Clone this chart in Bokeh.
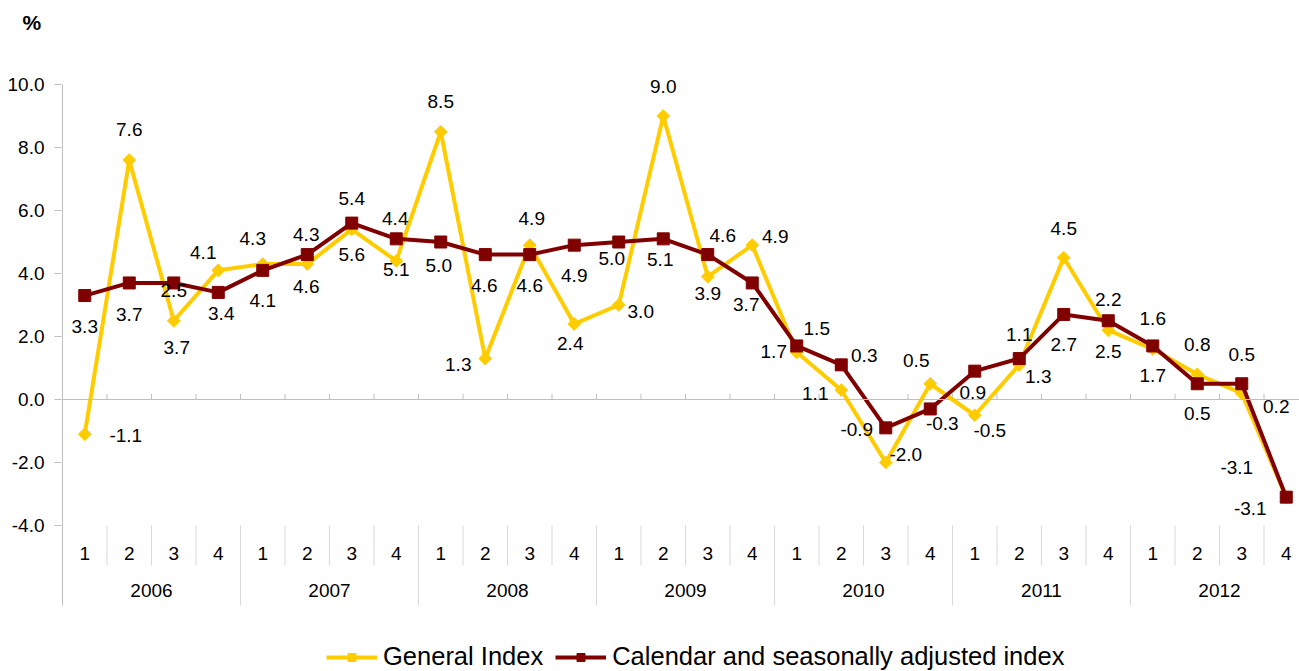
import math
from bokeh.plotting import figure
from bokeh.models import (Range1d, FixedTicker, NumeralTickFormatter, Span,
                          Legend, LegendItem, LabelSet, ColumnDataSource)
from bokeh.core.properties import value
from bokeh.embed import file_html
from bokeh.resources import INLINE

# ---------------- data ----------------
years = ["2006", "2007", "2008", "2009", "2010", "2011", "2012"]
quarters = ["1", "2", "3", "4"]

general = [-1.1, 7.6, 2.5, 4.1, 4.3, 4.3, 5.4, 4.4,
           8.5, 1.3, 4.9, 2.4, 3.0, 9.0, 3.9, 4.9,
           1.5, 0.3, -2.0, 0.5, -0.5, 1.1, 4.5, 2.2,
           1.6, 0.8, 0.2, -3.1]
adjusted = [3.3, 3.7, 3.7, 3.4, 4.1, 4.6, 5.6, 5.1,
            5.0, 4.6, 4.6, 4.9, 5.0, 5.1, 4.6, 3.7,
            1.7, 1.1, -0.9, -0.3, 0.9, 1.3, 2.7, 2.5,
            1.7, 0.5, 0.5, -3.1]

# data label texts as printed on the chart
general_labels = ["-1.1", "7.6", "2.5", "4.1", "4.3", "4.3", "5.4", "4.4",
                  "8.5", "1.3", "4.9", "2.4", "3.0", "9.0", "3.9", "4.9",
                  "1.5", "1.1", "-2.0", "0.5", "-0.5", "1.1", "4.5", "2.2",
                  "1.6", "0.8", "-3.1", "0.2"]
adjusted_labels = ["3.3", "3.7", "3.7", "3.4", "4.1", "4.6", "5.6", "5.1",
                   "5.0", "4.6", "4.6", "4.9", "5.0", "5.1", "4.6", "3.7",
                   "1.7", "0.3", "-0.9", "-0.3", "0.9", "1.3", "2.7", "2.5",
                   "1.7", "0.5", "0.5", "-3.1"]
y_ticks = [-4, -2, 0, 2, 4, 6, 8, 10]

# label placement (screen px, relative to the point; dy positive = downwards)
gen_dx = [41, 0, 0, -15, -10, -1, 0, -1, 0, -27, 2, -4, 22, 0, 0, 23,
          20, -26, 20, -14, 15, 0, 0, 0, 0, 0, -5, -10]
gen_dy = [1, -31, -30, -18, -26, -30, -31, -42, -30, 6, -27, 20, 6, -30, 17, -9,
          -24, 3, -8, -23, 15, -30, -29, -31, -31, -30, 74, -91]
adj_dx = [0, 0, 3, 3, 0, -1, 0, 0, -2, -1, 0, 0, -7, -3, 15, -6,
          -23, 23, -29, 12, -2, 19, 0, 0, 0, 0, 0, -36]
adj_dy = [31, 32, 65, 21, 30, 32, 31, 31, 23, 31, 31, 30, 16, 21, -19, 22,
          6, -9, 2, 15, 21, 18, 30, 31, 30, 30, -29, 11]

# ---------------- layout ----------------
YELLOW = "#FFCC00"
MAROON = "#800000"
AXIS_GREY = "#BFBFBF"
SEP_GREY = "#D9D9D9"
FONT = "Liberation Sans"
FS = "19px"

W, H = 1299, 671
left, top = 61, 40           # frame offsets in px
cat_px = 44.5                # px per category
unit_px = 31.5               # px per y unit
zero_px = 399                # screen y of value 0

def yv(py):                  # screen px -> data value (layout helper)
    return (zero_px - py) / unit_px

x0 = -0.5 - 1 / cat_px
n = len(years) * len(quarters)
xs = list(range(n))

p = figure(width=W, height=H, output_backend="svg", toolbar_location=None,
           x_range=Range1d(x0, x0 + (W - left) / cat_px),
           y_range=Range1d(yv(H), yv(top)),
           x_axis_type=None, min_border_left=left, min_border_right=0,
           min_border_top=top, min_border_bottom=0)
p.outline_line_color = None
p.ygrid.visible = False
p.background_fill_color = "white"
p.border_fill_color = "white"

# unit title
p.title.text = "%"
p.title.text_font = FONT
p.title.text_font_size = "21px"
p.title.text_font_style = "bold"
p.title.text_color = "#000000"
p.title.align = "left"
p.title.offset = 22 - left
p.title.vertical_align = "top"
p.title.standoff = 10

# y axis (ticks + labels); the axis line is drawn only over the value span
ya = p.yaxis[0]
ya.ticker = FixedTicker(ticks=y_ticks)
ya.formatter = NumeralTickFormatter(format="0.0")
ya.major_tick_out = 7
ya.major_tick_in = 0
ya.minor_tick_out = 0
ya.minor_tick_in = 0
ya.axis_line_color = None
ya.major_tick_line_color = AXIS_GREY
ya.major_label_standoff = 10
ya.major_label_text_font = FONT
ya.major_label_text_font_size = FS
ya.major_label_text_color = "#000000"

bounds = [k - 0.5 for k in range(n + 1)]
year_bounds = bounds[::len(quarters)]
quarter_bounds = [b for b in bounds if b not in year_bounds]
year_centers = [len(quarters) * k + (len(quarters) - 1) / 2 for k in range(len(years))]

y_axis_bottom = yv(605)
p.segment(x0=[-0.5], y0=[max(y_ticks)], x1=[-0.5], y1=[y_axis_bottom],
          line_color=AXIS_GREY, line_width=1)

# category separators below the value area
p.segment(x0=quarter_bounds, y0=[min(y_ticks)] * len(quarter_bounds),
          x1=quarter_bounds, y1=[yv(565)] * len(quarter_bounds),
          line_color=SEP_GREY, line_width=1)
p.segment(x0=year_bounds[1:], y0=[min(y_ticks)] * (len(year_bounds) - 1),
          x1=year_bounds[1:], y1=[y_axis_bottom] * (len(year_bounds) - 1),
          line_color=SEP_GREY, line_width=1)

# category labels
p.text(x=xs, y=[yv(553)] * n, text=[quarters[i % len(quarters)] for i in xs],
       text_align="center", text_baseline="middle", text_font=value(FONT),
       text_font_size=value(FS), text_color="#000000")
p.text(x=year_centers, y=[yv(590)] * len(years), text=years,
       text_align="center", text_baseline="middle", text_font=value(FONT),
       text_font_size=value(FS), text_color="#000000")

# zero line with small tick marks
p.add_layout(Span(location=0, dimension="width", line_color=AXIS_GREY, line_width=1))
p.segment(x0=bounds[1:-1], y0=[0] * (n - 1), x1=bounds[1:-1], y1=[0.18] * (n - 1),
          line_color=AXIS_GREY, line_width=1)

# series
gl = p.line(xs, general, line_color=YELLOW, line_width=4, line_join="round")
gs = p.scatter(xs, general, marker="square", angle=math.pi / 4, size=9,
               fill_color=YELLOW, line_color=YELLOW)
al = p.line(xs, adjusted, line_color=MAROON, line_width=4, line_join="round")
asq = p.scatter(xs, adjusted, marker="square", size=12,
                fill_color=MAROON, line_color=MAROON)

# data labels
gsrc = ColumnDataSource(dict(x=xs, y=general, t=general_labels,
                             dx=gen_dx, dy=[-d for d in gen_dy]))
asrc = ColumnDataSource(dict(x=xs, y=adjusted, t=adjusted_labels,
                             dx=adj_dx, dy=[-d for d in adj_dy]))
for src in (gsrc, asrc):
    p.add_layout(LabelSet(x="x", y="y", text="t", x_offset="dx", y_offset="dy",
                          source=src, text_align="center", text_baseline="middle",
                          text_font=value(FONT), text_font_size=FS,
                          text_color="#000000"))

# legend
legend = Legend(items=[LegendItem(label="General Index", renderers=[gl, gs]),
                       LegendItem(label="Calendar and seasonally adjusted index",
                                  renderers=[al, asq])],
                orientation="horizontal", location=(326 - left, 0),
                label_text_font=FONT, label_text_font_size="25.5px",
                label_text_color="#000000",
                glyph_width=51, glyph_height=20, label_standoff=6, spacing=12,
                padding=0, margin=0, border_line_color=None,
                background_fill_alpha=0)
p.add_layout(legend)

open("out.html", "w").write(file_html(p, INLINE))
